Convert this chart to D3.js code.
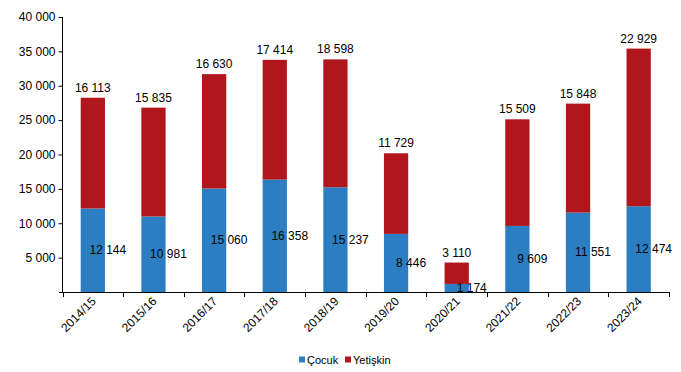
<!DOCTYPE html>
<html><head><meta charset="utf-8">
<script src="https://cdn.jsdelivr.net/npm/d3@7"></script>
<style>body{margin:0;background:#fff}svg{display:block;font-family:"Liberation Sans",Arial,sans-serif}</style>
</head><body><svg id="c" width="681" height="372"></svg>
<script>
const categories = ["2014/15","2015/16","2016/17","2017/18","2018/19","2019/20","2020/21","2021/22","2022/23","2023/24"];
const cocuk = [12144,10981,15060,16358,15237,8446,1174,9609,11551,12474];
const yetiskin = [16113,15835,16630,17414,18598,11729,3110,15509,15848,22929];
const yTicks = [5000,10000,15000,20000,25000,30000,35000,40000];
const seriesNames = ["Çocuk","Yetişkin"];
const colors = ["#2b7ec2","#b0161b"];

const svg = d3.select("#c");
const fmt = v => d3.format(",")(v).replace(/,/g, " ");
const x = d3.scaleBand().domain(categories).range([62.5, 669]).paddingInner(0.6).paddingOuter(0.3);
const y = d3.scaleLinear().domain([0, 40000]).range([292, 17]);

const rows = categories.map((c,i)=>({cat:c, cocuk:cocuk[i], yetiskin:yetiskin[i]}));
const stack = d3.stack().keys(["cocuk","yetiskin"])(rows);

svg.append("g").selectAll("g").data(stack).join("g")
  .attr("fill",(d,i)=>colors[i])
  .selectAll("rect").data(d=>d).join("rect")
  .attr("x", d=>x(d.data.cat)).attr("width", x.bandwidth())
  .attr("y", d=>y(d[1])).attr("height", d=>y(d[0])-y(d[1]));

// y axis
const ya = svg.append("g").attr("transform","translate(62.5,0)")
  .call(d3.axisLeft(y).tickValues(yTicks).tickSize(4).tickFormat(fmt));
ya.select(".domain").attr("d","M0,"+y(40000)+"V"+y(0)).attr("stroke","#000");
ya.selectAll("text").attr("font-size","12px").attr("fill","#000").attr("font-family","Liberation Sans, Arial, sans-serif");
ya.selectAll("line").attr("stroke","#000");

// x axis with ticks at band boundaries
const xg = svg.append("g");
const step = x.step();
const x0 = x.range()[0];
xg.append("line").attr("x1",59).attr("x2",669).attr("y1",292.5).attr("y2",292.5).attr("stroke","#000");
d3.range(categories.length+1).forEach(i=>{
  const xx = Math.round(x0 + i*step) + 0.5;
  xg.append("line").attr("x1",xx).attr("x2",xx).attr("y1",292).attr("y2",297).attr("stroke","#000");
});
xg.selectAll("text.cat").data(categories).join("text").attr("class","cat")
  .attr("transform", d=>`translate(${x(d)+x.bandwidth()/2-2},${296}) rotate(-45)`)
  .attr("text-anchor","end").attr("dy","0.7em").attr("font-size","12px").text(d=>d);

// labels
svg.append("g").selectAll("text").data(rows).join("text")
  .attr("x", d=>x(d.cat)+x.bandwidth()/2).attr("y", d=>y(d.cocuk+d.yetiskin)-6)
  .attr("text-anchor","middle").attr("font-size","12px").text(d=>fmt(d.yetiskin));
svg.append("g").selectAll("text").data(rows).join("text")
  .attr("x", d=>x(d.cat)+x.bandwidth()/2+15).attr("y", d=>(y(d.cocuk)+y(0))/2)
  .attr("dy","0.35em")
  .attr("text-anchor","middle").attr("font-size","12px").text(d=>fmt(d.cocuk));

// legend
const lg = svg.append("g").attr("transform","translate(299,360)");
const items = [{n:seriesNames[0],c:colors[0],x:0},{n:seriesNames[1],c:colors[1],x:46}];
items.forEach(it=>{
  lg.append("rect").attr("x",it.x).attr("y",-3.5).attr("width",6).attr("height",6).attr("fill",it.c);
  lg.append("text").attr("x",it.x+8).attr("y",0).attr("dy","0.35em").attr("font-size","11px").text(it.n);
});
</script></body></html>
